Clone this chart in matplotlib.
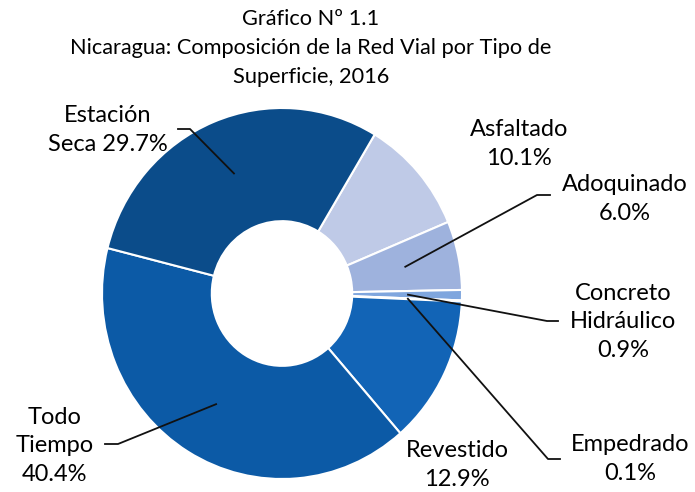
import matplotlib
matplotlib.use('Agg')
import matplotlib.pyplot as plt
import numpy as np
from matplotlib.lines import Line2D

plt.rcParams['font.family'] = ['Lato', 'DejaVu Sans']

# data
tipos = ['Asfaltado', 'Adoquinado', 'Concreto\nHidráulico', 'Empedrado',
         'Revestido', 'Todo\nTiempo', 'Estación\nSeca']
porcentajes = [10.1, 6.0, 0.9, 0.1, 12.9, 40.4, 29.7]
colores = ['#BFCAE7', '#9EB2DD', '#7FA6DE', '#4F74B5',
           '#1264B6', '#0C5AA6', '#0B4C8A']
titulo = 'Gráfico Nº 1.1\nNicaragua: Composición de la Red Vial por Tipo de\nSuperficie, 2016'

W, H = 695, 492
fig = plt.figure(figsize=(W / 100, H / 100), dpi=100)


def px(x, y):
    # pixel (from top-left) -> figure fraction
    return (x / W, 1 - y / H)


# donut is slightly taller than wide in the original
ax = fig.add_axes([102 / W, 13 / H, 360 / W, 371 / H])
wedges, _ = ax.pie(porcentajes, colors=colores, startangle=59, counterclock=False,
                   radius=1, wedgeprops=dict(width=0.61, edgecolor='white', linewidth=1.5))
ax.set_xlim(-1, 1)
ax.set_ylim(-1, 1)
ax.set_aspect('auto')
ax.axis('off')

fig.text(*px(311, 48), titulo, ha='center', va='center', fontsize=15.7,
         linespacing=1.55)

# label text: (centre x, centre y) in pixels, and leader (label end, kink) or None
etiquetas = {
    'Asfaltado': ((519, 144), None),
    'Adoquinado': ((625, 199), ((550, 195), (537, 195))),
    'Concreto\nHidráulico': ((623, 322), ((558, 321), (547, 321))),
    'Empedrado': ((630, 459), ((560, 459), (548, 459))),
    'Revestido': ((457, 465), None),
    'Todo\nTiempo': ((55, 446), ((105, 444), (118, 444))),
    'Estación\nSeca': ((108, 130), ((178, 129), (190, 129))),
}

inv = fig.transFigure.inverted()
for w, nombre, p in zip(wedges, tipos, porcentajes):
    (tx, ty), leader = etiquetas[nombre]
    if nombre == 'Estación\nSeca':
        txt = 'Estación\nSeca %.1f%%' % p
    else:
        txt = '%s\n%.1f%%' % (nombre, p)
    fig.text(*px(tx, ty), txt, ha='center', va='center', fontsize=17,
             linespacing=1.42)
    if leader is not None:
        ang = np.deg2rad((w.theta1 + w.theta2) / 2)
        anchor = inv.transform(ax.transData.transform((0.7 * np.cos(ang), 0.7 * np.sin(ang))))
        p0 = px(*leader[0])
        p1 = px(*leader[1])
        fig.add_artist(Line2D([p0[0], p1[0], anchor[0]], [p0[1], p1[1], anchor[1]],
                              transform=fig.transFigure, color='#111111', lw=1.3))

fig.savefig('out.png', dpi=100)
